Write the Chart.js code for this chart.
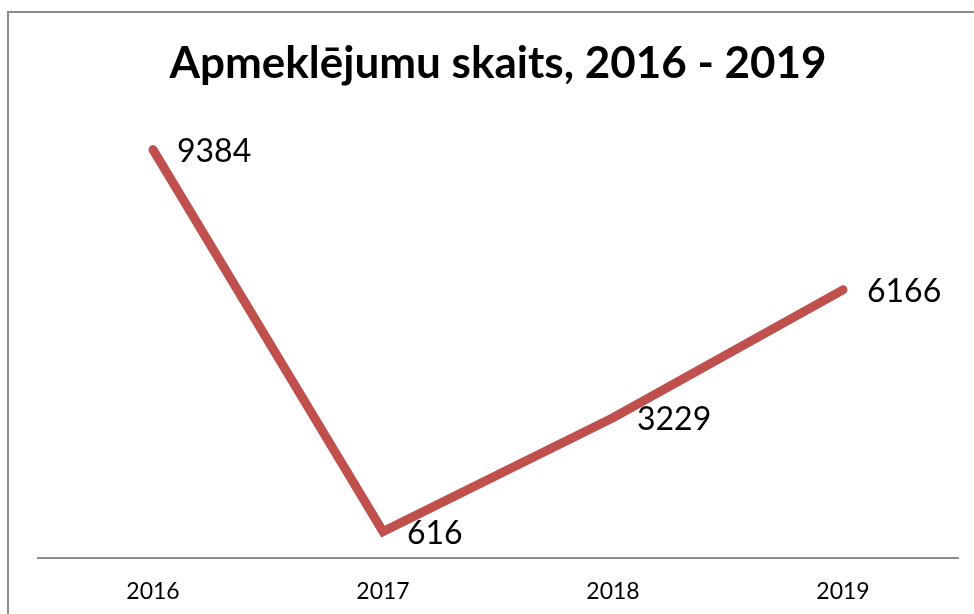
<!DOCTYPE html>
<html>
<head>
<meta charset="utf-8">
<script src="https://cdn.jsdelivr.net/npm/chart.js@4.4.1/dist/chart.umd.min.js"></script>
<style>
  html, body { margin: 0; padding: 0; background: #fff; overflow: hidden; }
  #wrap { position: relative; width: 974px; height: 614px; }
  #frame { position: absolute; left: 7px; top: 11px; width: 1000px; height: 700px;
           border-left: 2px solid #8c8c8c; border-top: 2px solid #8c8c8c; }
  #chartVisits { position: absolute; left: 0; top: 0; }
</style>
</head>
<body>
<div id="wrap">
  <div id="frame"></div>
  <canvas id="chartVisits" width="974" height="614"></canvas>
</div>
<script>
var years = ['2016', '2017', '2018', '2019'];
var visits = [9384, 616, 3229, 6166];
var chartTitle = 'Apmeklējumu skaits, 2016 - 2019';

// etiķetes pa labi no punktiem
var pointLabels = {
    id: 'pointLabels',
    afterDatasetsDraw: function(chart) {
        var ctx = chart.ctx;
        var meta = chart.getDatasetMeta(0);
        ctx.save();
        ctx.font = '32px Lato';
        ctx.fillStyle = '#000';
        ctx.textAlign = 'left';
        ctx.textBaseline = 'middle';
        meta.data.forEach(function(pt, i) {
            ctx.fillText(String(visits[i]), pt.x + 24, pt.y + 2);
        });
        ctx.restore();
    }
};

var ctxVisits = document.getElementById('chartVisits');
var chartVisits = new Chart(ctxVisits, {
    type: 'line',
    data: {
        labels: years,
        datasets: [
            {
                label: 'Apmeklējumi',
                data: visits,
                borderColor: '#C0504D',
                borderWidth: 9,
                borderCapStyle: 'round',
                borderJoinStyle: 'miter',
                pointRadius: 0,
                tension: 0,
                fill: false
            }
        ]
    },
    options: {
        responsive: false,
        animation: false,
        layout: {
            padding: { left: 38, right: 16, top: 0, bottom: -10 }
        },
        plugins: {
            legend: { display: false },
            tooltip: { enabled: false },
            title: {
                display: true,
                text: chartTitle,
                color: '#000',
                font: { family: 'Lato', size: 44, weight: 'bold', lineHeight: 1.2 },
                padding: { top: 37, bottom: 33 }
            }
        },
        scales: {
            x: {
                offset: true,
                grid: { display: false, drawTicks: false },
                border: { display: true, color: '#8c8c8c', width: 2 },
                ticks: {
                    color: '#000',
                    padding: 19,
                    font: { family: 'Lato', size: 23 }
                }
            },
            y: {
                display: false,
                min: 0,
                max: 10000
            }
        }
    },
    plugins: [pointLabels]
});
</script>
</body>
</html>
